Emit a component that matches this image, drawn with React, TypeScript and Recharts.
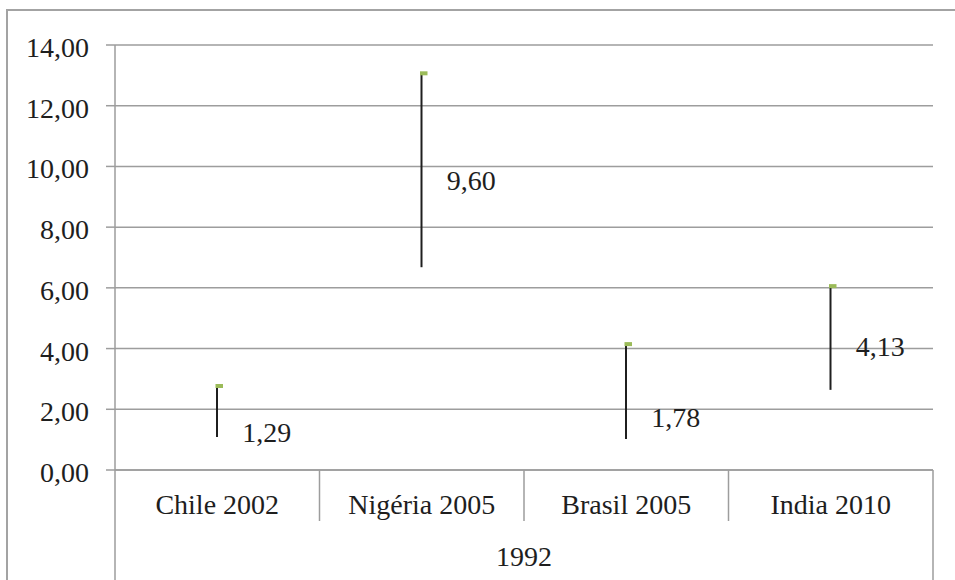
import React from 'react';
import { ComposedChart, Bar, Line, XAxis, YAxis, CartesianGrid, LabelList } from 'recharts';

const categories = ['Chile 2002', 'Nigéria 2005', 'Brasil 2005', 'India 2010'];
const highValues = [2.8, 13.1, 4.18, 6.09];
const lowValues = [1.09, 6.68, 1.02, 2.64];
const closeValues = [1.29, 9.6, 1.78, 4.13];
const groupLabel = '1992';
const yTicks = [0, 2, 4, 6, 8, 10, 12, 14];

const WIDTH = 955;
const HEIGHT = 580;
const MARGIN = { top: 45, right: 22, bottom: 0, left: 0 };
const Y_AXIS_W = 115;
const PLOT_W = WIDTH - MARGIN.left - MARGIN.right - Y_AXIS_W;
const BAND = PLOT_W / categories.length;
const CAT_H = 51;
const GROUP_H = 59;

const FONT = '"Liberation Serif", "Times New Roman", serif';
const FONT_SIZE = 28;
const TEXT = '#1e1e1e';
const GRID = '#9d9d9d';

const chartData = categories.map((name, i) => ({
  name,
  group: groupLabel,
  range: [lowValues[i], highValues[i]],
  close: closeValues[i],
}));

const fmt = (v: number) => v.toFixed(2).replace('.', ',');

function YTick({ x, y, payload }: any) {
  return (
    <text x={x} y={y + 12} textAnchor="end" fill={TEXT} fontSize={FONT_SIZE} fontFamily={FONT}>
      {fmt(payload.value)}
    </text>
  );
}

// category label plus the divider on the left edge of its band
function CategoryTick({ x, y, payload, index }: any) {
  const left = x - BAND / 2;
  return (
    <g>
      {index > 0 && (
        <line x1={left} x2={left} y1={y} y2={y + CAT_H} stroke={GRID} strokeWidth={1.5} />
      )}
      <text x={x} y={y + 44} textAnchor="middle" fill={TEXT} fontSize={FONT_SIZE} fontFamily={FONT}>
        {payload.value}
      </text>
    </g>
  );
}

// outer group label spanning all categories
function GroupTick({ x, y, payload }: any) {
  const left = x - PLOT_W / 2;
  const right = x + PLOT_W / 2;
  return (
    <g>
      <line x1={left} x2={left} y1={y - CAT_H} y2={y + GROUP_H} stroke={GRID} strokeWidth={1.5} />
      <line x1={right} x2={right} y1={y - CAT_H} y2={y + GROUP_H} stroke={GRID} strokeWidth={1.5} />
      <text x={x} y={y + 45} textAnchor="middle" fill={TEXT} fontSize={FONT_SIZE} fontFamily={FONT}>
        {payload.value}
      </text>
    </g>
  );
}

// high-low stick with a small green cap on the high end
function HighLowShape({ x, y, width, height }: any) {
  const cx = x + width / 2;
  return (
    <g>
      <line x1={cx} x2={cx} y1={y} y2={y + height} stroke="#1f1f1f" strokeWidth={2} />
      <rect x={cx - 1.5} y={y - 1} width={7.5} height={4} fill="#9bbb59" />
    </g>
  );
}

function CloseLabel({ x, y, value }: any) {
  return (
    <text x={x + 25} y={y + 11} textAnchor="start" fill={TEXT} fontSize={FONT_SIZE} fontFamily={FONT}>
      {fmt(Number(value))}
    </text>
  );
}

export default function App() {
  return (
    <div
      style={{
        position: 'absolute',
        left: 0,
        top: 0,
        width: WIDTH,
        height: HEIGHT,
        background: '#fff',
        overflow: 'hidden',
      }}
    >
      <div
        style={{
          position: 'absolute',
          left: 6,
          top: 9,
          right: -10,
          bottom: -10,
          borderLeft: '2px solid #a3a3a3',
          borderTop: '2px solid #a3a3a3',
        }}
      />
      <div style={{ position: 'absolute', left: 0, top: 0 }}>
        <ComposedChart width={WIDTH} height={HEIGHT} data={chartData} margin={MARGIN}>
          <CartesianGrid vertical={false} stroke={GRID} strokeWidth={1.5} />
          <YAxis
            width={Y_AXIS_W}
            domain={[0, 14]}
            ticks={yTicks}
            interval={0}
            tickSize={9}
            tickMargin={17}
            tick={<YTick />}
            axisLine={{ stroke: GRID, strokeWidth: 1.5 }}
            tickLine={{ stroke: GRID, strokeWidth: 1.5 }}
          />
          <XAxis
            dataKey="name"
            height={CAT_H}
            interval={0}
            tickSize={0}
            tickMargin={0}
            tickLine={false}
            axisLine={{ stroke: GRID, strokeWidth: 1.5 }}
            tick={<CategoryTick />}
          />
          <XAxis
            xAxisId="group"
            dataKey="group"
            allowDuplicatedCategory={false}
            height={GROUP_H}
            interval={0}
            tickSize={0}
            tickMargin={0}
            tickLine={false}
            axisLine={false}
            tick={<GroupTick />}
          />
          <Bar dataKey="range" barSize={20} shape={<HighLowShape />} isAnimationActive={false} />
          <Line
            dataKey="close"
            stroke="none"
            dot={false}
            activeDot={false}
            isAnimationActive={false}
          >
            <LabelList dataKey="close" content={<CloseLabel />} />
          </Line>
        </ComposedChart>
      </div>
    </div>
  );
}
